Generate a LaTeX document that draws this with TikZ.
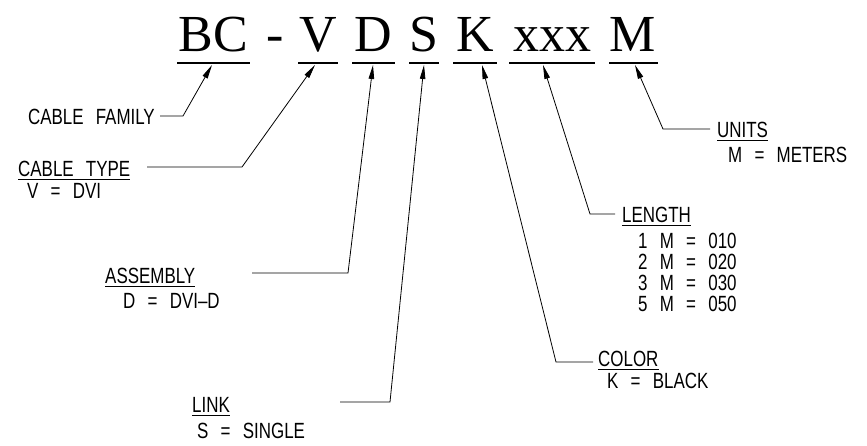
\documentclass[tikz,border=0pt]{standalone}
\usepackage{fontspec}
\setmainfont{Liberation Serif}
\newfontfamily\cadfont[FakeStretch=0.77,WordSpace=2.6]{Liberation Sans}
\usetikzlibrary{arrows.meta}
\begin{document}
\begin{tikzpicture}[x=1pt,y=-1pt,
  code/.style={font=\fontsize{52}{52}\selectfont, inner sep=0pt, anchor=base},
  bar/.style={line width=2.5pt},
  cad/.style={font=\cadfont\fontsize{22}{22}\selectfont, inner sep=0pt, anchor=base west},
  leader/.style={line width=0.8pt, -{Triangle[length=14pt,width=5.5pt]}},
  uline/.style={line width=0.8pt}]
\useasboundingbox (0,0) rectangle (867,445);
% code letters
\node[code] (tBC) at (213,51) {BC};
\node[code] (tdash) at (275,51) {-};
\node[code] (tV) at (318,51) {V};
\node[code] (tD) at (373,51) {D};
\node[code] (tS) at (424,51) {S};
\node[code] (tK) at (475,51) {K};
\node[code] (tX) at (552,51) {xxx};
\node[code] (tM) at (633,51) {M};
% bars
\draw[bar] (177,63) -- (250,63);
\draw[bar] (298,63) -- (338,63);
\draw[bar] (352,63) -- (395,63);
\draw[bar] (409,63) -- (439,63);
\draw[bar] (453,63) -- (497,63);
\draw[bar] (509,63) -- (595,63);
\draw[bar] (609,63) -- (658,63);
% arrow tips
\coordinate (aBC) at (212,65);
\coordinate (aV) at (315,65);
\coordinate (aD) at (373,65);
\coordinate (aS) at (424,65);
\coordinate (aK) at (482,65);
\coordinate (aX) at (543,65);
\coordinate (aM) at (635,65);
% labels
\node[cad, anchor=base east] (fam) at (155,124) {CABLE FAMILY};
\node[cad] (typ) at (18,176) {CABLE TYPE};
\node[cad] (typv) at (27,198) {V = DVI};
\node[cad] (asm) at (105,283) {ASSEMBLY};
\node[cad] (asmv) at (123,308) {D = DVI\textendash D};
\node[cad] (lnk) at (192,412) {LINK};
\node[cad] (lnkv) at (197,438) {S = SINGLE};
\node[cad] (col) at (598,366) {COLOR};
\node[cad] (colv) at (607,388) {K = BLACK};
\node[cad] (len) at (622,222) {LENGTH};
\node[cad] (len1) at (638,248) {1 M = 010};
\node[cad] (len2) at (638,269) {2 M = 020};
\node[cad] (len3) at (638,290) {3 M = 030};
\node[cad] (len5) at (638,311) {5 M = 050};
\node[cad] (uni) at (717,137) {UNITS};
\node[cad] (univ) at (728,162) {M = METERS};
% underlines
\foreach \n in {typ,asm,lnk,col,len,uni}
  \draw[uline] ([yshift=-3pt]\n.base west) -- ([yshift=-3pt]\n.base east);
% leader bends
\coordinate (s1) at (160,116); \coordinate (b1) at (183,116);
\coordinate (s2) at (147,167); \coordinate (b2) at (242,167);
\coordinate (s3) at (252,273); \coordinate (b3) at (348,273);
\coordinate (s4) at (340,402); \coordinate (b4) at (390,402);
\coordinate (s5) at (593,362); \coordinate (b5) at (556,362);
\coordinate (s6) at (615,214); \coordinate (b6) at (590,214);
\coordinate (s7) at (710,129); \coordinate (b7) at (663,129);
\draw[leader] (s1) -- (b1) -- (aBC);
\draw[leader] (s2) -- (b2) -- (aV);
\draw[leader] (s3) -- (b3) -- (aD);
\draw[leader] (s4) -- (b4) -- (aS);
\draw[leader] (s5) -- (b5) -- (aK);
\draw[leader] (s6) -- (b6) -- (aX);
\draw[leader] (s7) -- (b7) -- (aM);
\end{tikzpicture}
\end{document}
